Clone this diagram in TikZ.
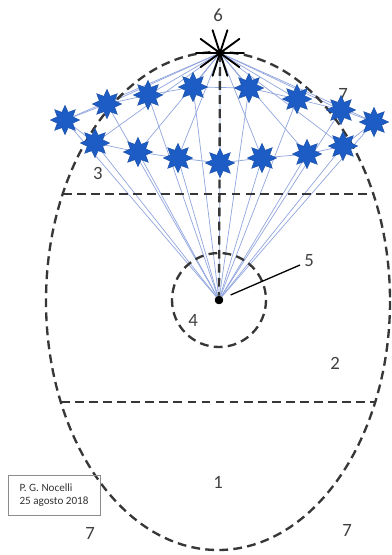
\documentclass[tikz,border=0pt]{standalone}
\usepackage{fontspec}
\setmainfont{Carlito}
\usetikzlibrary{shapes.geometric}
\definecolor{dashgray}{RGB}{55,55,55}
\definecolor{starblue}{RGB}{28,92,196}
\definecolor{raycol}{RGB}{145,165,222}
\tikzset{
  dashline/.style={dashgray,line width=2pt,dash pattern=on 7.5pt off 4.5pt},
  bstar/.style={star,star points=8,star point ratio=1.75,fill=starblue,draw=starblue!80!black,
    line width=0.3pt,minimum size=0.88cm,inner sep=0pt},
  ray/.style={raycol,line width=0.6pt},
  num/.style={font=\fontsize{16}{18}\selectfont,text=black!75}
}
\begin{document}
\begin{tikzpicture}[x=0.03cm,y=-0.03cm]
  \useasboundingbox (0,0) rectangle (392,555);
  % ring of stars, back row (u) and front row (l)
  \foreach \n/\x/\y in {u1/65/120,u2/107/104,u3/148/95,u4/193/87,u5/249/88,u6/297/99,u7/341/110,u8/374/122,
                        l1/95/143,l2/138/152,l3/178/158,l4/220/163,l5/262/158,l6/307/154,l7/343/146}
    \coordinate (\n) at (\x,\y);
  \coordinate (apex) at (220,53);
  \node[circle,fill=black,inner sep=0pt,minimum size=0.25cm] (dot) at (219,300) {};
  % rays to the apex and to the centre
  \foreach \n in {u1,u2,u3,u4,u5,u6,u7,u8,l1,l2,l3,l4,l5,l6,l7}
    \draw[ray] (apex) -- (\n) (dot) -- (\n);
  \draw[ray] (l1) -- (u1) -- (u2) -- (u3) -- (u4) -- (u5) -- (u6) -- (u7) -- (u8)
    -- (l7) -- (l6) -- (l5) -- (l4) -- (l3) -- (l2) -- (l1);
  % dashed outline and zones
  \draw[dashline] (218,301) ellipse [x radius=172,y radius=249];
  \draw[dashline] (63,194) -- (373,194);
  \draw[dashline] (61,402) -- (375,402);
  \draw[dashline] (dot) circle [radius=47];
  \draw[dashline] (apex) -- (dot);
  \node[num] (n7c) at (343,94) {7};
  \foreach \n in {u1,u2,u3,u4,u5,u6,u7,u8,l1,l2,l3,l4,l5,l6,l7}
    \node[bstar] (s\n) at (\n) {};
  % black star at the top
  \foreach \a in {0,36,...,324}
    \draw[black,line width=1.6pt,line cap=round] (apex) -- ++(\a:0.72cm);
  \node[circle,fill=black,inner sep=0pt,minimum size=0.25cm] (dotb) at (dot) {};
  \coordinate (tag5) at (300,265);
  \draw[black,line width=1.1pt,shorten <=0.25cm] (dot) -- (tag5);
  % labels
  \node[num] (n6) at (218,15) {6};
  \node[num] (n3) at (98,173) {3};
  \node[num] (n4) at (193,320) {4};
  \node[num] (n5) at (309,261) {5};
  \node[num] (n2) at (335,363) {2};
  \node[num] (n1) at (218,482) {1};
  \node[num] (n7a) at (90,533) {7};
  \node[num] (n7b) at (347,530) {7};
  \node[draw=black!45,line width=0.6pt,align=left,text=black!80,font=\fontsize{9.5}{10.5}\selectfont,
    minimum width=2.76cm,minimum height=1.2cm] (sign) at (54,495) {P. G. Nocelli\\25 agosto 2018};
\end{tikzpicture}
\end{document}
